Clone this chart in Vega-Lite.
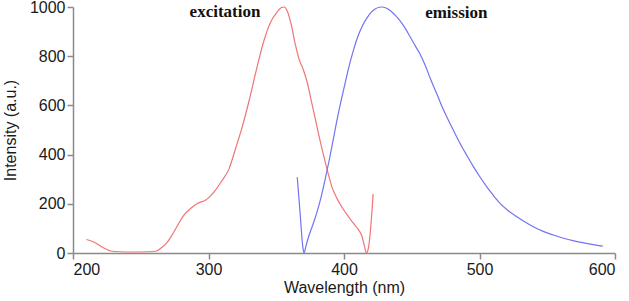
{
  "$schema": "https://vega.github.io/schema/vega-lite/v6.json",
  "width": 542,
  "height": 246,
  "autosize": {"type": "none"},
  "padding": {"left": 73, "top": 7, "right": 14, "bottom": 48},
  "background": "white",
  "config": {
    "view": {"stroke": null},
    "font": "Liberation Sans",
    "axis": {
      "grid": false,
      "domainColor": "#8a8a8a",
      "tickColor": "#8a8a8a",
      "domainWidth": 1.5,
      "tickWidth": 1.5,
      "tickSize": 6,
      "labelFont": "Liberation Sans",
      "labelFontSize": 16,
      "labelColor": "#1a1a1a",
      "titleFont": "Liberation Sans",
      "titleFontSize": 16,
      "titleFontWeight": "normal",
      "titleColor": "#1a1a1a"
    }
  },
  "datasets": {
    "spectra": [
      {"series": "excitation", "wl": 210, "I": 55},
      {"series": "excitation", "wl": 216, "I": 43},
      {"series": "excitation", "wl": 222, "I": 22},
      {"series": "excitation", "wl": 228, "I": 8},
      {"series": "excitation", "wl": 235, "I": 5},
      {"series": "excitation", "wl": 245, "I": 4},
      {"series": "excitation", "wl": 255, "I": 5},
      {"series": "excitation", "wl": 261, "I": 7},
      {"series": "excitation", "wl": 265, "I": 20},
      {"series": "excitation", "wl": 269, "I": 40},
      {"series": "excitation", "wl": 273, "I": 72},
      {"series": "excitation", "wl": 277, "I": 110},
      {"series": "excitation", "wl": 282, "I": 155},
      {"series": "excitation", "wl": 287, "I": 182},
      {"series": "excitation", "wl": 292, "I": 202},
      {"series": "excitation", "wl": 298, "I": 215},
      {"series": "excitation", "wl": 302, "I": 235},
      {"series": "excitation", "wl": 306, "I": 262},
      {"series": "excitation", "wl": 310, "I": 295},
      {"series": "excitation", "wl": 315, "I": 340},
      {"series": "excitation", "wl": 320, "I": 425},
      {"series": "excitation", "wl": 325, "I": 515},
      {"series": "excitation", "wl": 330, "I": 620},
      {"series": "excitation", "wl": 336, "I": 760},
      {"series": "excitation", "wl": 341, "I": 865},
      {"series": "excitation", "wl": 346, "I": 940},
      {"series": "excitation", "wl": 350, "I": 975},
      {"series": "excitation", "wl": 354, "I": 998},
      {"series": "excitation", "wl": 356, "I": 1000},
      {"series": "excitation", "wl": 358, "I": 985},
      {"series": "excitation", "wl": 361, "I": 930},
      {"series": "excitation", "wl": 364, "I": 850},
      {"series": "excitation", "wl": 367, "I": 785},
      {"series": "excitation", "wl": 370, "I": 745},
      {"series": "excitation", "wl": 373, "I": 690},
      {"series": "excitation", "wl": 376, "I": 615},
      {"series": "excitation", "wl": 379, "I": 540},
      {"series": "excitation", "wl": 382, "I": 465},
      {"series": "excitation", "wl": 385, "I": 395},
      {"series": "excitation", "wl": 388, "I": 330},
      {"series": "excitation", "wl": 391, "I": 270},
      {"series": "excitation", "wl": 395, "I": 220},
      {"series": "excitation", "wl": 399, "I": 182},
      {"series": "excitation", "wl": 403, "I": 150},
      {"series": "excitation", "wl": 407, "I": 120},
      {"series": "excitation", "wl": 411, "I": 92},
      {"series": "excitation", "wl": 413, "I": 72},
      {"series": "excitation", "wl": 415, "I": 30},
      {"series": "excitation", "wl": 416.5, "I": 0},
      {"series": "excitation", "wl": 418, "I": 20},
      {"series": "excitation", "wl": 419.5, "I": 90},
      {"series": "excitation", "wl": 421.5, "I": 240},
      {"series": "emission", "wl": 365.5, "I": 308},
      {"series": "emission", "wl": 367.5, "I": 170},
      {"series": "emission", "wl": 369.5, "I": 30},
      {"series": "emission", "wl": 370.5, "I": 0},
      {"series": "emission", "wl": 372, "I": 30},
      {"series": "emission", "wl": 374, "I": 68},
      {"series": "emission", "wl": 377, "I": 115},
      {"series": "emission", "wl": 380, "I": 165},
      {"series": "emission", "wl": 383, "I": 225},
      {"series": "emission", "wl": 386, "I": 297},
      {"series": "emission", "wl": 389, "I": 375},
      {"series": "emission", "wl": 392, "I": 459},
      {"series": "emission", "wl": 395, "I": 545},
      {"series": "emission", "wl": 398, "I": 622},
      {"series": "emission", "wl": 401, "I": 695},
      {"series": "emission", "wl": 404, "I": 765},
      {"series": "emission", "wl": 407, "I": 825},
      {"series": "emission", "wl": 410.5, "I": 884},
      {"series": "emission", "wl": 414, "I": 928},
      {"series": "emission", "wl": 417, "I": 956},
      {"series": "emission", "wl": 420, "I": 978},
      {"series": "emission", "wl": 423, "I": 992},
      {"series": "emission", "wl": 426, "I": 999},
      {"series": "emission", "wl": 428, "I": 1000},
      {"series": "emission", "wl": 431, "I": 996},
      {"series": "emission", "wl": 434, "I": 986},
      {"series": "emission", "wl": 437.5, "I": 968},
      {"series": "emission", "wl": 441, "I": 947},
      {"series": "emission", "wl": 445, "I": 915},
      {"series": "emission", "wl": 449, "I": 877},
      {"series": "emission", "wl": 453, "I": 838},
      {"series": "emission", "wl": 456, "I": 810},
      {"series": "emission", "wl": 460, "I": 762},
      {"series": "emission", "wl": 464, "I": 705},
      {"series": "emission", "wl": 468.5, "I": 647},
      {"series": "emission", "wl": 472, "I": 600},
      {"series": "emission", "wl": 476, "I": 552},
      {"series": "emission", "wl": 481, "I": 496},
      {"series": "emission", "wl": 486, "I": 442},
      {"series": "emission", "wl": 491, "I": 393},
      {"series": "emission", "wl": 495.5, "I": 351},
      {"series": "emission", "wl": 500, "I": 312},
      {"series": "emission", "wl": 505, "I": 272},
      {"series": "emission", "wl": 510, "I": 236},
      {"series": "emission", "wl": 515, "I": 203},
      {"series": "emission", "wl": 521, "I": 173},
      {"series": "emission", "wl": 527, "I": 149},
      {"series": "emission", "wl": 533, "I": 128},
      {"series": "emission", "wl": 540, "I": 106},
      {"series": "emission", "wl": 547, "I": 88},
      {"series": "emission", "wl": 554.5, "I": 73},
      {"series": "emission", "wl": 562, "I": 60},
      {"series": "emission", "wl": 569, "I": 50},
      {"series": "emission", "wl": 577, "I": 41},
      {"series": "emission", "wl": 584, "I": 34},
      {"series": "emission", "wl": 591, "I": 28}
    ],
    "labels": [
      {"label": "excitation", "wl": 312.2, "I": 959},
      {"label": "emission", "wl": 482.9, "I": 954}
    ]
  },
  "layer": [
    {
      "data": {"name": "spectra"},
      "mark": {"type": "line", "strokeWidth": 1.2, "interpolate": "monotone"},
      "encoding": {
        "x": {
          "field": "wl",
          "type": "quantitative",
          "scale": {"domain": [200, 600], "nice": false, "zero": false},
          "axis": {"values": [200, 300, 400, 500, 600], "format": "d", "title": "Wavelength (nm)", "labelPadding": 2, "titlePadding": 2}
        },
        "y": {
          "field": "I",
          "type": "quantitative",
          "scale": {"domain": [0, 1000], "nice": false},
          "axis": {"values": [0, 200, 400, 600, 800, 1000], "format": "d", "title": "Intensity (a.u.)", "labelPadding": 2, "titlePadding": 11}
        },
        "color": {
          "field": "series",
          "type": "nominal",
          "scale": {"domain": ["excitation", "emission"], "range": ["#f07575", "#7373f2"]},
          "legend": null
        },
        "order": {"field": "wl", "type": "quantitative"}
      }
    },
    {
      "data": {"name": "labels"},
      "mark": {"type": "text", "font": "Liberation Serif", "fontWeight": "bold", "fontSize": 17, "align": "center", "baseline": "alphabetic", "color": "#111111"},
      "encoding": {
        "x": {"field": "wl", "type": "quantitative"},
        "y": {"field": "I", "type": "quantitative"},
        "text": {"field": "label", "type": "nominal"}
      }
    }
  ]
}
